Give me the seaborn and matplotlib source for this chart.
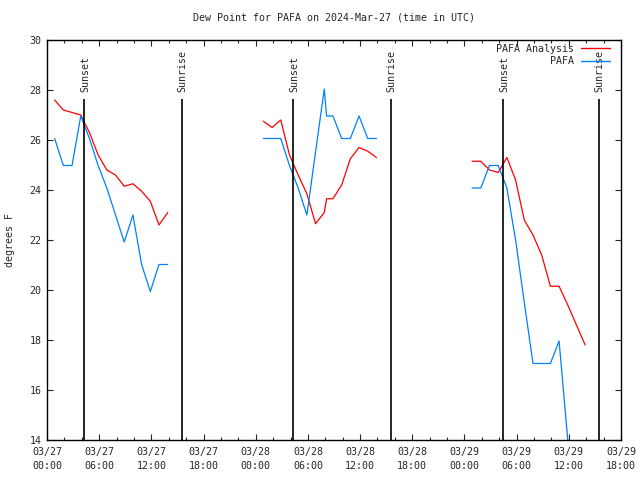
import matplotlib

matplotlib.use('Agg')
import matplotlib.pyplot as plt
import numpy as np
import pandas as pd
import seaborn as sns

# Hours since 2024-03-27 00:00 UTC, observations at :53 past the hour
hours_day1 = [0.88, 1.88, 2.88, 3.88, 4.88, 5.88, 6.88, 7.88, 8.88, 9.88,
              10.88, 11.88, 12.88, 13.88]
analysis_day1 = [27.6, 27.2, 27.1, 27.0, 26.3, 25.4, 24.8, 24.6, 24.15, 24.25,
                 23.95, 23.55, 22.6, 23.1]
obs_day1 = [26.06, 24.98, 24.98, 26.96, 26.06, 24.98, 24.08, 23.0, 21.92, 23.0,
            21.02, 19.94, 21.02, 21.02]

hours_day2 = [24.88, 25.88, 26.88, 27.88, 28.88, 29.88, 30.88, 31.88, 32.15,
              32.88, 33.88, 34.88, 35.88, 36.88, 37.88]
analysis_day2 = [26.75, 26.5, 26.8, 25.4, 24.6, 23.85, 22.65, 23.1, 23.65,
                 23.65, 24.2, 25.25, 25.7, 25.55, 25.3]
obs_day2 = [26.06, 26.06, 26.06, 24.98, 24.08, 23.0, 25.52, 28.04, 26.96,
            26.96, 26.06, 26.06, 26.96, 26.06, 26.06]

hours_day3 = [48.88, 49.88, 50.88, 51.88, 52.88, 53.88, 54.88, 55.88, 56.88,
              57.88, 58.88, 59.88, 60.88, 61.88]
analysis_day3 = [25.15, 25.15, 24.8, 24.7, 25.3, 24.4, 22.8, 22.2, 21.4,
                 20.15, 20.15, 19.4, 18.6, 17.8]
obs_day3 = [24.08, 24.08, 24.98, 24.98, 24.08, 22.0, 19.5, 17.06, 17.06,
            17.06, 17.96, 14.0, np.nan, np.nan]

sunsets = [4.29, 28.32, 52.47]
sunrises = [15.49, 39.52, 63.43]

tick_hours = list(range(0, 67, 6))
tick_labels = ['03/27\n00:00', '03/27\n06:00', '03/27\n12:00', '03/27\n18:00',
               '03/28\n00:00', '03/28\n06:00', '03/28\n12:00', '03/28\n18:00',
               '03/29\n00:00', '03/29\n06:00', '03/29\n12:00', '03/29\n18:00']

# long table: one line per (series, day)
frames = []
for seg, (h, a, o) in enumerate([(hours_day1, analysis_day1, obs_day1),
                                 (hours_day2, analysis_day2, obs_day2),
                                 (hours_day3, analysis_day3, obs_day3)]):
    frames.append(pd.DataFrame({'hour': h, 'dewpt': a,
                                'series': 'PAFA Analysis', 'seg': seg}))
    frames.append(pd.DataFrame({'hour': h, 'dewpt': o,
                                'series': 'PAFA', 'seg': seg}))
df = pd.concat(frames, ignore_index=True).dropna()

sns.set_style('ticks')
plt.rcParams['font.family'] = ['DejaVu Sans Mono', 'DejaVu Sans']
FS = 7.2

fig = plt.figure(figsize=(6.4, 4.8), dpi=100)
ax = fig.add_axes([47 / 640, 40 / 480, 574 / 640, 400 / 480])

palette = {'PAFA Analysis': '#ff0000', 'PAFA': '#0080ff'}
sns.lineplot(data=df, x='hour', y='dewpt', hue='series', units='seg',
             estimator=None, palette=palette, linewidth=0.9, ax=ax,
             legend=False, sort=False)

for x in sunsets + sunrises:
    ax.vlines(x, 14, 27.64, color='black', linewidth=1.2)
for x in sunsets:
    ax.text(x + 0.1, 27.92, 'Sunset', rotation=90, ha='center', va='bottom',
            fontsize=FS)
for x in sunrises:
    ax.text(x + 0.1, 27.92, 'Sunrise', rotation=90, ha='center', va='bottom',
            fontsize=FS)

ax.set_xlim(0, 66)
ax.set_ylim(14, 30)
ax.set_xticks(tick_hours)
ax.set_xticklabels(tick_labels, fontsize=FS)
for lbl in ax.get_xticklabels():
    lbl.set_linespacing(1.45)
ax.set_xticks(range(0, 67, 2), minor=True)
ax.set_yticks(range(14, 31, 2))
ax.tick_params(axis='y', labelsize=FS)
ax.tick_params(which='major', direction='in', length=4, width=0.8,
               top=True, right=True, pad=5)
ax.tick_params(which='minor', direction='in', length=2, width=0.8,
               top=True, right=True)
ax.tick_params(axis='y', pad=4)
for sp in ax.spines.values():
    sp.set_linewidth(1)
    sp.set_color('black')

ax.set_xlabel('')
ax.set_ylabel('degrees F', fontsize=FS)
ax.yaxis.set_label_coords(-0.055, 0.5)
ax.set_title('Dew Point for PAFA on 2024-Mar-27 (time in UTC)',
             fontsize=FS, pad=14)

handles = [plt.Line2D([], [], color=palette[k], linewidth=1)
           for k in palette]
ax.legend(handles, list(palette), loc='upper right',
          bbox_to_anchor=(0.981, 0.99), frameon=False,
          markerfirst=False, fontsize=FS, handlelength=2.9,
          handletextpad=0.7, labelspacing=0.25, borderaxespad=0,
          borderpad=0)

fig.savefig('out.png', dpi=100)
